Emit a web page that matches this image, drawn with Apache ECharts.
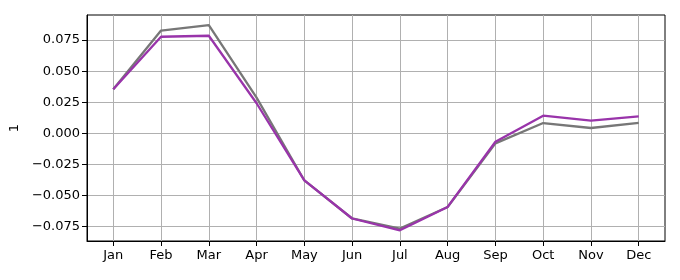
<!DOCTYPE html>
<html>
<head>
<meta charset="utf-8">
<script src="https://cdn.jsdelivr.net/npm/echarts@6/dist/echarts.min.js"></script>
<style>
  html, body { margin: 0; padding: 0; background: #fff; }
  #chart { width: 680px; height: 280px; }
</style>
</head>
<body>
<div id="chart"></div>
<script>
const months = ['Jan', 'Feb', 'Mar', 'Apr', 'May', 'Jun', 'Jul', 'Aug', 'Sep', 'Oct', 'Nov', 'Dec']
const grayValues = [0.0355, 0.0827, 0.0871, 0.0287, -0.0379, -0.0685, -0.0766, -0.0592, -0.0081, 0.0083, 0.0043, 0.0085]
const purpleValues = [0.0355, 0.0777, 0.0785, 0.0242, -0.0379, -0.0685, -0.0780, -0.0592, -0.0068, 0.0142, 0.0102, 0.0137]
const yTicks = [-0.075, -0.05, -0.025, 0, 0.025, 0.05, 0.075]
const yName = '1'

const font = 'DejaVu Sans'
const chart = echarts.init(document.getElementById('chart'))

const toPairs = vals => vals.map((v, i) => [i, v])

chart.setOption({
  animation: false,
  grid: {
    left: 87, right: 15, top: 15, bottom: 39,
    containLabel: false,
    outerBoundsMode: 'none',
    show: true, borderColor: '#000', borderWidth: 1
  },
  xAxis: {
    type: 'value',
    min: -0.55,
    max: 11.55,
    axisLine: { show: true, onZero: false, lineStyle: { color: '#000', width: 1 } },
    axisTick: { show: true, length: 5, lineStyle: { color: '#000' }, customValues: months.map((m, i) => i) },
    axisLabel: {
      customValues: months.map((m, i) => i),
      formatter: v => months[Math.round(v)],
      color: '#000', fontFamily: font, fontSize: 13, margin: 8
    },
    splitLine: { show: true, lineStyle: { color: '#b0b0b0', width: 1 } }
  },
  yAxis: {
    type: 'value',
    min: -0.0866,
    max: 0.0952,
    name: yName,
    nameLocation: 'middle',
    nameRotate: 90,
    nameGap: 66,
    nameTextStyle: { color: '#000', fontFamily: font, fontSize: 13 },
    axisLine: { show: true, onZero: false, lineStyle: { color: '#000', width: 1 } },
    axisTick: { show: true, length: 5, lineStyle: { color: '#000' }, customValues: yTicks },
    axisLabel: {
      customValues: yTicks,
      formatter: v => (v < 0 ? '\u2212' : '') + Math.abs(v).toFixed(3),
      color: '#000', fontFamily: font, fontSize: 13, margin: 7
    },
    splitLine: { show: true, lineStyle: { color: '#b0b0b0', width: 1 } }
  },
  series: [
    {
      type: 'line',
      data: toPairs(grayValues),
      symbol: 'none',
      lineStyle: { color: '#777777', width: 2.3 },
      z: 2
    },
    {
      type: 'line',
      data: toPairs(purpleValues),
      symbol: 'none',
      lineStyle: { color: '#9934aa', width: 2.3 },
      z: 3
    }
  ]
})
</script>
</body>
</html>
